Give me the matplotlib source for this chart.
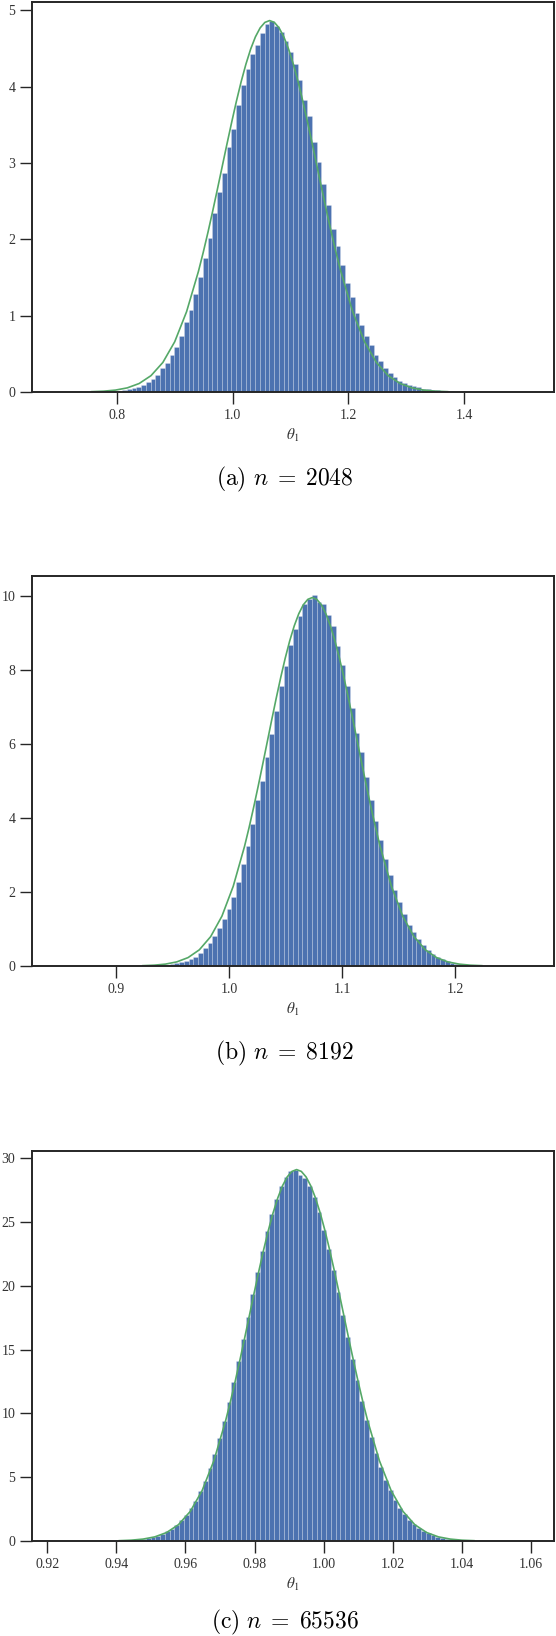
import numpy as np
import matplotlib.pyplot as plt
from matplotlib.ticker import FormatStrFormatter

plt.rcParams['font.family'] = ['Liberation Serif', 'DejaVu Serif']
plt.rcParams['mathtext.fontset'] = 'stix'

# ---- (a) n = 2048 : 100 bins starting at first_edge_a ----
first_edge_a, bin_w_a = 0.6944, 0.0082
hist_a = [0.001, 0.0, 0.0, 0.001, 0.001, 0.001, 0.002, 0.002, 0.003, 0.004,
          0.006, 0.008, 0.012, 0.018, 0.025, 0.035, 0.05, 0.065,
          0.09, 0.13, 0.175, 0.22, 0.31, 0.38, 0.48, 0.59, 0.74, 0.92,
          1.07, 1.28, 1.50, 1.75, 2.02, 2.34, 2.62, 2.87, 3.21, 3.45,
          3.76, 4.02, 4.23, 4.43, 4.55, 4.70, 4.82, 4.86,
          4.80, 4.71, 4.60, 4.45, 4.29, 4.09, 3.83, 3.62, 3.27, 3.01,
          2.73, 2.45, 2.13, 1.91, 1.67, 1.43, 1.25, 1.04, 0.88, 0.73,
          0.62, 0.49, 0.41, 0.31, 0.25, 0.20, 0.15, 0.12,
          0.095, 0.075, 0.06, 0.045, 0.035, 0.026, 0.02, 0.015, 0.011, 0.008,
          0.006, 0.005, 0.004, 0.003, 0.002, 0.002, 0.001, 0.001, 0.001, 0.001,
          0.0, 0.001, 0.0, 0.0, 0.0, 0.001]
curve_x_a = [0.7565, 0.777, 0.7975, 0.818, 0.8385, 0.859, 0.8795, 0.900, 0.9205, 0.941,
             0.9492, 0.9574, 0.9656, 0.9738, 0.982, 0.9902, 0.9984, 1.0066, 1.0148, 1.023,
             1.0312, 1.0394, 1.0476, 1.0558, 1.064, 1.0722, 1.0804, 1.0886, 1.0968, 1.105,
             1.1132, 1.1214, 1.1296, 1.1378, 1.146, 1.1542, 1.1624, 1.1706, 1.1788, 1.187,
             1.2075, 1.228, 1.2485, 1.269, 1.2895, 1.310, 1.3305, 1.351, 1.3715]
curve_y_a = [0.0044, 0.0107, 0.0248, 0.054, 0.111, 0.214, 0.387, 0.658, 1.052, 1.580,
             1.826, 2.090, 2.368, 2.657, 2.951, 3.245, 3.532, 3.808, 4.064, 4.293,
             4.491, 4.651, 4.769, 4.841, 4.865, 4.841, 4.769, 4.651, 4.491, 4.293,
             4.064, 3.808, 3.532, 3.245, 2.951, 2.657, 2.368, 2.090, 1.826, 1.580,
             1.052, 0.658, 0.387, 0.214, 0.111, 0.054, 0.0248, 0.0107, 0.0044]

# ---- (b) n = 8192 ----
first_edge_b, bin_w_b = 0.8464, 0.0042
hist_b = [0.001, 0.0, 0.0, 0.0, 0.0, 0.0, 0.001, 0.0, 0.0, 0.001,
          0.001, 0.001, 0.001, 0.002, 0.002, 0.003, 0.004, 0.005, 0.006, 0.008,
          0.012, 0.017, 0.025, 0.035, 0.05, 0.07,
          0.10, 0.14, 0.18, 0.24, 0.35, 0.48, 0.63, 0.80, 1.04, 1.28,
          1.54, 1.87, 2.28, 2.76, 3.24, 3.84, 4.49, 5.01, 5.66,
          6.27, 6.91, 7.58, 8.12, 8.69, 9.13, 9.46, 9.79, 9.93, 10.05,
          9.84, 9.80, 9.49, 9.20, 8.66, 8.14, 7.58, 6.98, 6.31, 5.78,
          5.11, 4.50, 3.93, 3.42, 2.89, 2.47, 2.06, 1.74, 1.40, 1.12,
          0.91, 0.73, 0.58, 0.43, 0.33, 0.25, 0.18, 0.13, 0.09, 0.06,
          0.045, 0.03, 0.022, 0.015, 0.01, 0.007, 0.005, 0.004, 0.003, 0.002,
          0.002, 0.001, 0.001, 0.001, 0.001]
curve_x_b = [0.9235, 0.9335, 0.9435, 0.9535, 0.9635, 0.9735, 0.9835, 0.9935, 1.0035, 1.0135,
             1.0175, 1.0215, 1.0255, 1.0295, 1.0335, 1.0375, 1.0415, 1.0455, 1.0495, 1.0535,
             1.0575, 1.0615, 1.0655, 1.0695, 1.0735, 1.0775, 1.0815, 1.0855, 1.0895, 1.0935,
             1.0975, 1.1015, 1.1055, 1.1095, 1.1135, 1.1175, 1.1215, 1.1255, 1.1295, 1.1335,
             1.1435, 1.1535, 1.1635, 1.1735, 1.1835, 1.1935, 1.2035, 1.2135, 1.2235]
curve_y_b = [0.009, 0.022, 0.051, 0.111, 0.227, 0.438, 0.794, 1.349, 2.157, 3.237,
             3.742, 4.283, 4.853, 5.445, 6.047, 6.650, 7.239, 7.803, 8.328, 8.799,
             9.203, 9.531, 9.773, 9.920, 9.970, 9.920, 9.773, 9.531, 9.203, 8.799,
             8.328, 7.803, 7.239, 6.650, 6.047, 5.445, 4.853, 4.283, 3.742, 3.237,
             2.157, 1.349, 0.794, 0.438, 0.227, 0.111, 0.051, 0.022, 0.009]

# ---- (c) n = 65536 ----
first_edge_c, bin_w_c = 0.9224, 0.001375
hist_c = [0.001, 0.001, 0.001, 0.002, 0.002, 0.003, 0.003, 0.004, 0.005, 0.007,
          0.009, 0.014, 0.021, 0.031, 0.045, 0.062, 0.088, 0.125, 0.17, 0.235,
          0.31, 0.42, 0.57, 0.75, 0.97, 1.26, 1.61, 2.04, 2.57, 3.17,
          3.90, 4.74, 5.72, 6.83, 8.05, 9.41, 10.88, 12.47, 14.12, 15.84,
          17.60, 19.36, 21.10, 22.74, 24.30, 25.66, 26.85, 27.80, 28.52, 29.02,
          29.10, 28.72, 28.48, 27.85, 26.95, 25.78, 24.40, 22.90, 21.25, 19.50,
          17.75, 15.98, 14.25, 12.60, 10.98, 9.52, 8.15, 6.92, 5.80, 4.82,
          3.97, 3.23, 2.62, 2.10, 1.66, 1.30, 1.01, 0.78, 0.60, 0.45,
          0.33, 0.25, 0.18, 0.13, 0.095, 0.068, 0.047, 0.033, 0.022, 0.016,
          0.011, 0.008, 0.006, 0.004, 0.003, 0.002, 0.002, 0.001, 0.001, 0.001]
curve_x_c = [0.94083, 0.94425, 0.94768, 0.95110, 0.95453, 0.95795, 0.96138, 0.96480, 0.96823, 0.97165,
             0.97302, 0.97439, 0.97576, 0.97713, 0.97850, 0.97987, 0.98124, 0.98261, 0.98398, 0.98535,
             0.98672, 0.98809, 0.98946, 0.99083, 0.99220, 0.99357, 0.99494, 0.99631, 0.99768, 0.99905,
             1.00042, 1.00179, 1.00316, 1.00453, 1.00590, 1.00727, 1.00864, 1.01001, 1.01138, 1.01275,
             1.01618, 1.01960, 1.02303, 1.02645, 1.02988, 1.03330, 1.03673, 1.04015, 1.04358]
curve_y_c = [0.026, 0.064, 0.149, 0.323, 0.664, 1.278, 2.318, 3.940, 6.299, 9.455,
             10.929, 12.510, 14.176, 15.902, 17.661, 19.423, 21.144, 22.792, 24.324, 25.698,
             26.881, 27.839, 28.543, 28.974, 29.120, 28.974, 28.543, 27.839, 26.881, 25.698,
             24.324, 22.792, 21.144, 19.423, 17.661, 15.902, 14.176, 12.510, 10.929, 9.455,
             6.299, 3.940, 2.318, 1.278, 0.664, 0.323, 0.149, 0.064, 0.026]

xticks_a = [0.8, 1.0, 1.2, 1.4]
xticks_b = [0.9, 1.0, 1.1, 1.2]
xticks_c = [0.92, 0.94, 0.96, 0.98, 1.00, 1.02, 1.04, 1.06]
yticks_a = [0, 1, 2, 3, 4, 5]
yticks_b = [0, 2, 4, 6, 8, 10]
yticks_c = [0, 5, 10, 15, 20, 25, 30]
captions = [r'$\mathrm{(a)}\ n \;=\; 2048$',
            r'$\mathrm{(b)}\ n \;=\; 8192$',
            r'$\mathrm{(c)}\ n \;=\; 65536$']

BLUE = '#4c72b0'
GREEN = '#55a868'
DARK = '#262626'

fig = plt.figure(figsize=(5.56, 16.36), dpi=100)
H = 1636.0
ax_left, ax_w = 32 / 556, 522 / 556
ax_h = 390 / H
bottoms_px = [392, 966, 1541]
caption_gap_px = [87, 87, 81]

panels = [
    (first_edge_a, bin_w_a, hist_a, curve_x_a, curve_y_a, xticks_a, yticks_a, '%.1f'),
    (first_edge_b, bin_w_b, hist_b, curve_x_b, curve_y_b, xticks_b, yticks_b, '%.1f'),
    (first_edge_c, bin_w_c, hist_c, curve_x_c, curve_y_c, xticks_c, yticks_c, '%.2f'),
]

for i, (x0, w, heights, cx, cy, xt, yt, fmt) in enumerate(panels):
    ax = fig.add_axes([ax_left, (H - bottoms_px[i]) / H, ax_w, ax_h])
    edges = x0 + w * np.arange(len(heights))
    ax.bar(edges, heights, width=w, align='edge', color=BLUE,
           edgecolor=(1, 1, 1, 0.35), linewidth=0.4)
    ax.plot(cx, cy, color=GREEN, lw=1.2)

    ax.set_xticks(xt)
    ax.set_yticks(yt)
    ax.xaxis.set_major_formatter(FormatStrFormatter(fmt))
    ax.tick_params(direction='out', length=8.5, width=1.0, color=DARK,
                   labelcolor='#333333', labelsize=10, pad=3.5)
    for s in ax.spines.values():
        s.set_color(DARK)
        s.set_linewidth(1.4)
    ax.set_xlabel(r'$\theta_1$', fontsize=11, labelpad=4, color='#333333')

    # subfigure caption under each panel
    fig.text(0.512, (H - bottoms_px[i] - caption_gap_px[i]) / H, captions[i],
             ha='center', va='center', fontsize=17, math_fontfamily='cm')

fig.savefig('out.png', dpi=100)
